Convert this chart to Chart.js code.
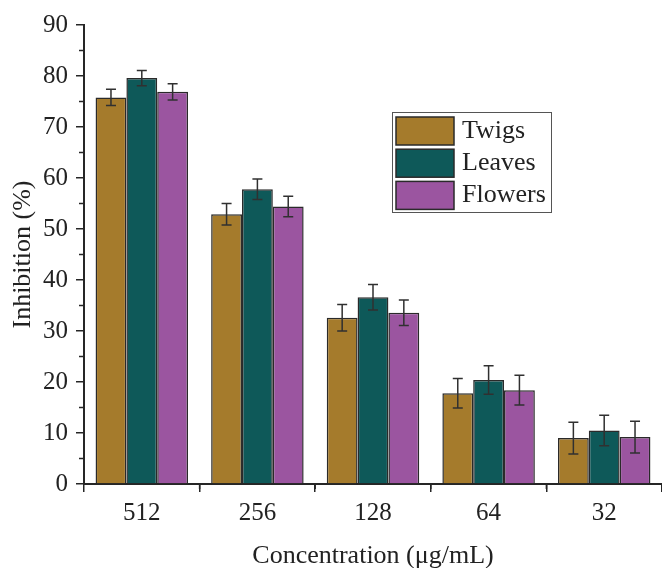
<!DOCTYPE html>
<html>
<head>
<meta charset="utf-8">
<script src="https://cdn.jsdelivr.net/npm/chart.js@4/dist/chart.umd.min.js"></script>
<style>
  html, body { margin: 0; padding: 0; background: #fff; }
  #wrap { width: 662px; height: 568px; position: relative; }
</style>
</head>
<body>
<div id="wrap"><canvas id="chart"></canvas></div>
<script>
// datos
const concentrations = ['512', '256', '128', '64', '32'];
const twigs = [75.8, 52.9, 32.6, 17.8, 9.0];
const leaves = [79.6, 57.8, 36.6, 20.4, 10.5];
const flowers = [76.9, 54.4, 33.6, 18.4, 9.2];
const twigsErr = [1.6, 2.1, 2.6, 2.9, 3.1];
const leavesErr = [1.5, 2.0, 2.5, 2.8, 3.0];
const flowersErr = [1.6, 2.0, 2.5, 2.9, 3.1];
const yTicks = [0, 10, 20, 30, 40, 50, 60, 70, 80, 90];

const axisColor = '#262626';
const serif = '"Liberation Serif", "DejaVu Serif", serif';

// barras de error con las escalas del gráfico
const errorBars = {
  id: 'errorBars',
  afterDatasetsDraw(chart) {
    const { ctx } = chart;
    const y = chart.scales.y;
    ctx.save();
    ctx.strokeStyle = '#303030';
    ctx.lineWidth = 1.5;
    chart.data.datasets.forEach((ds, di) => {
      const meta = chart.getDatasetMeta(di);
      meta.data.forEach((bar, i) => {
        const v = ds.data[i], e = ds.errors[i];
        const yt = y.getPixelForValue(v + e);
        const yb = y.getPixelForValue(v - e);
        ctx.beginPath();
        ctx.moveTo(bar.x, yt); ctx.lineTo(bar.x, yb);
        ctx.moveTo(bar.x - 5, yt); ctx.lineTo(bar.x + 5, yt);
        ctx.moveTo(bar.x - 5, yb); ctx.lineTo(bar.x + 5, yb);
        ctx.stroke();
      });
    });
    ctx.restore();
  }
};

// marcas menores y leyenda dentro del área
const extras = {
  id: 'extras',
  afterDraw(chart) {
    const { ctx, chartArea } = chart;
    const x = chart.scales.x, y = chart.scales.y;
    ctx.save();
    ctx.strokeStyle = axisColor;
    ctx.lineWidth = 1.5;
    // menores del eje y
    for (let i = 0; i < yTicks.length - 1; i++) {
      const py = y.getPixelForValue((yTicks[i] + yTicks[i + 1]) / 2);
      ctx.beginPath();
      ctx.moveTo(chartArea.left - 5, py); ctx.lineTo(chartArea.left, py);
      ctx.stroke();
    }
    // menores del eje x (entre categorías)
    const step = x.getPixelForValue(1) - x.getPixelForValue(0);
    for (let i = 0; i < concentrations.length; i++) {
      const px = x.getPixelForValue(i) + step / 2;
      ctx.beginPath();
      ctx.moveTo(px, chartArea.bottom); ctx.lineTo(px, chartArea.bottom + 5);
      ctx.stroke();
    }

    // leyenda
    const lx = 392, ly = 112, lw = 159, lh = 100;
    ctx.lineWidth = 1;
    ctx.strokeStyle = '#555';
    ctx.strokeRect(lx + 0.5, ly + 0.5, lw, lh);
    ctx.font = '26px ' + serif;
    ctx.textBaseline = 'middle';
    ctx.textAlign = 'left';
    chart.data.datasets.forEach((ds, i) => {
      const ry = ly + 5 + i * 32.2;
      ctx.fillStyle = ds.backgroundColor;
      ctx.fillRect(lx + 4, ry, 58, 28);
      ctx.strokeStyle = '#2a2a2a';
      ctx.lineWidth = 1.5;
      ctx.strokeRect(lx + 4, ry, 58, 28);
      ctx.fillStyle = '#222';
      ctx.fillText(ds.label, lx + 70, ry + 14);
    });
    ctx.restore();
  }
};

const barStyle = { borderColor: '#2a2a2a', borderWidth: 1.5, categoryPercentage: 0.8, barPercentage: 1.0 };

new Chart(document.getElementById('chart'), {
  type: 'bar',
  data: {
    labels: concentrations,
    datasets: [
      { label: 'Twigs', data: twigs, errors: twigsErr, backgroundColor: '#A57B2C', ...barStyle },
      { label: 'Leaves', data: leaves, errors: leavesErr, backgroundColor: '#0E5959', ...barStyle },
      { label: 'Flowers', data: flowers, errors: flowersErr, backgroundColor: '#9B55A0', ...barStyle }
    ]
  },
  options: {
    responsive: true, maintainAspectRatio: false, animation: false,
    layout: { padding: { top: 25, right: 0, bottom: 0, left: 0 } },
    plugins: { legend: { display: false }, tooltip: { enabled: false } },
    scales: {
      x: {
        type: 'category', offset: true,
        afterFit: s => { s.height = 84; },
        grid: { drawOnChartArea: false, drawTicks: true, tickLength: 8, color: axisColor, lineWidth: 1.5 },
        border: { color: axisColor, width: 2 },
        ticks: { color: '#222', font: { family: serif, size: 25 }, padding: 6, maxRotation: 0 },
        title: { display: true, text: 'Concentration (μg/mL)', color: '#222', font: { family: serif, size: 26, lineHeight: 0.9 }, padding: { top: 0, bottom: 0 } }
      },
      y: {
        min: 0, max: 90,
        afterFit: s => { s.width = 84; },
        afterBuildTicks: s => { s.ticks = yTicks.map(v => ({ value: v })); },
        grid: { drawOnChartArea: false, drawTicks: true, tickLength: 8, color: axisColor, lineWidth: 1.5 },
        border: { color: axisColor, width: 2 },
        ticks: { color: '#222', font: { family: serif, size: 25 }, padding: 8 },
        title: { display: true, text: 'Inhibition (%)', color: '#222', font: { family: serif, size: 26, lineHeight: 0.9 }, padding: { top: 11, bottom: 0 } }
      }
    }
  },
  plugins: [errorBars, extras]
});
</script>
</body>
</html>
